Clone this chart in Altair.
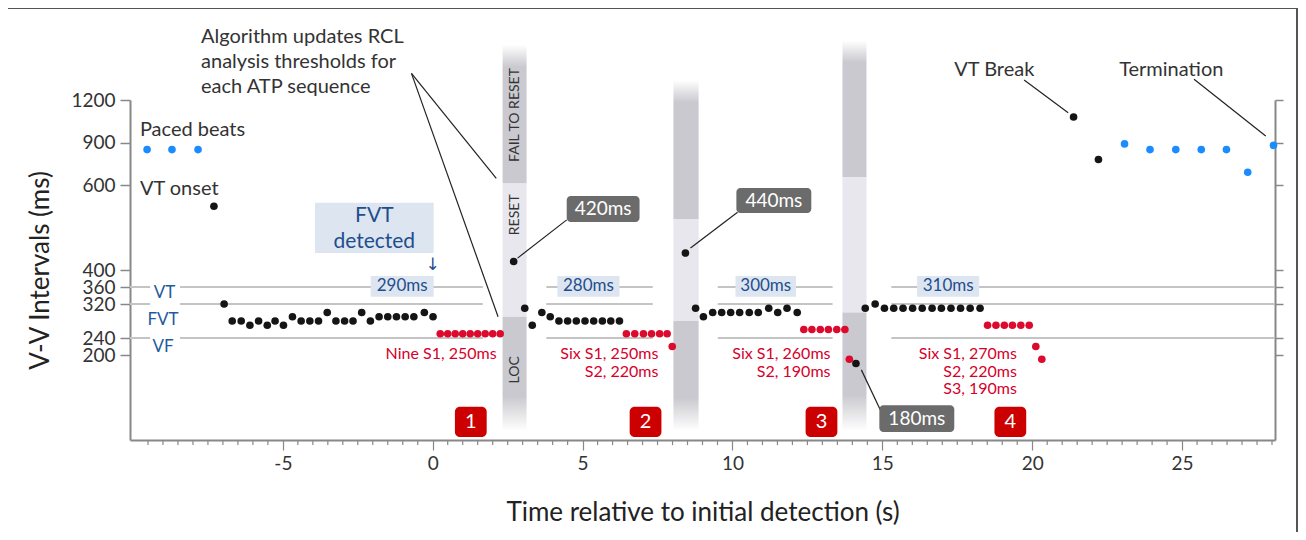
import altair as alt
import pandas as pd

FONT = "Lato"
BLACK = "#151515"
RED = "#dc0a2d"
BLUE = "#1a8cff"
NAVY = "#1f4e8c"
DARKBAND = "#c9c9cf"
LIGHTBAND = "#e7e7ed"

# ---------------- beats: time (s) and V-V interval (ms) ----------------
paced_t = [-9.53, -8.70, -7.83]
paced_ms = [850, 850, 850]

onset_t = [-7.30]
onset_ms = [550]

vt1_t = [-6.96, -6.69, -6.39, -6.10, -5.81, -5.52, -5.26, -4.98, -4.68, -4.39, -4.10, -3.81, -3.52,
         -3.23, -2.94, -2.66, -2.37, -2.08, -1.79, -1.50, -1.21, -0.92, -0.63, -0.28, 0.01]
vt1_ms = [320, 280, 280, 270, 280, 270, 280, 270, 290, 280, 280, 280, 300,
          280, 280, 280, 300, 280, 290, 290, 290, 290, 290, 300, 290]

vt2_t = [2.70, 3.07, 3.32, 3.64, 3.92, 4.21, 4.50, 4.79, 5.08, 5.37, 5.66, 5.94, 6.23]
vt2_ms = [420, 310, 270, 300, 290, 280, 280, 280, 280, 280, 280, 280, 280]

vt3_t = [8.43, 8.77, 9.03, 9.34, 9.64, 9.94, 10.24, 10.56, 10.86, 11.21, 11.51, 11.82, 12.16]
vt3_ms = [440, 310, 290, 300, 300, 300, 300, 300, 300, 310, 300, 310, 300]

vt4_t = [14.12, 14.43, 14.76, 15.07, 15.38, 15.69, 16.01, 16.33, 16.66, 16.97, 17.29, 17.61, 17.93, 18.26]
vt4_ms = [180, 310, 320, 310, 310, 310, 310, 310, 310, 310, 310, 310, 310, 310]

brk_t = [21.38, 22.21]
brk_ms = [1080, 780]

post_t = [23.08, 23.93, 24.79, 25.64, 26.48, 27.19, 28.05]
post_ms = [890, 850, 850, 850, 850, 690, 880]

atp1_t = [0.25, 0.50, 0.75, 1.00, 1.25, 1.50, 1.75, 2.00, 2.25]
atp1_ms = [250, 250, 250, 250, 250, 250, 250, 250, 250]
atp2_t = [6.46, 6.74, 7.03, 7.30, 7.57, 7.82, 7.99]
atp2_ms = [250, 250, 250, 250, 250, 250, 220]
atp3_t = [12.38, 12.65, 12.93, 13.20, 13.48, 13.75, 13.90]
atp3_ms = [260, 260, 260, 260, 260, 260, 190]
atp4_t = [18.51, 18.79, 19.07, 19.34, 19.62, 19.90, 20.12, 20.32]
atp4_ms = [270, 270, 270, 270, 270, 270, 220, 190]

# ---------------- axes ----------------
y_ticks = [200, 240, 320, 360, 400, 600, 900, 1200]
x_major = [-5, 0, 5, 10, 15, 20, 25]
x_minor = [v / 2 for v in range(-19, 57) if v % 10 != 0]
minor_len_ms = [0, -12]

# ---------------- analysis bands (s, ms) ----------------
band_x1 = [2.33, 8.03, 13.67]
band_x2 = [3.13, 8.87, 14.47]
band_top = [1590, 1340, 1620]
band_reset_hi = [610, 520, 655]
band_reset_lo = [290, 280, 300]
band_bottom = [22, 22, 22]
band_labels = ["FAIL TO RESET", "RESET", "LOC"]
band_label_ms = [1094, 530, 165]

# threshold line segments
thr_x1 = [-10.1, -8.43, 3.79, 9.51, 15.30]
thr_x2 = [-9.43, 1.67, 7.34, 13.34, 28.07]
thr_levels = [360, 320, 240]

zone_labels = ["VT", "FVT", "VF"]
zone_t = [-8.95, -9.0, -9.0]
zone_ms = [346, 282, 219]

rcl_labels = ["290ms", "280ms", "300ms", "310ms"]
rcl_x1 = [-2.07, 4.16, 10.10, 16.16]
rcl_x2 = [0.03, 6.23, 12.12, 18.23]
rcl_ms_lo = [337, 337, 337, 337]
rcl_ms_hi = [386, 386, 386, 386]

gray_labels = ["420ms", "440ms", "180ms"]
gray_x1 = [4.47, 10.13, 14.90]
gray_x2 = [6.90, 12.63, 17.40]
gray_lo = [513, 534, 19]
gray_hi = [574, 593, 82]

num_labels = ["1", "2", "3", "4"]
num_t = [1.27, 7.10, 12.97, 19.27]

red_notes = ["Nine S1, 250ms", "Six S1, 250ms", "S2, 220ms", "Six S1, 260ms", "S2, 190ms",
             "Six S1, 270ms", "S2, 220ms", "S3, 190ms"]
red_t = [2.13, 7.53, 7.53, 13.27, 13.27, 19.49, 19.49, 19.49]
red_ms = [202, 202, 161, 202, 161, 202, 161, 120]

notes = ["Algorithm updates RCL", "analysis thresholds for", "each ATP sequence",
         "Paced beats", "VT onset", "VT Break", "Termination"]
notes_t = [-7.73, -7.73, -7.73, -9.77, -9.77, 17.40, 22.90]
notes_ms = [1645, 1468, 1292, 988, 590, 1412, 1412]

call_x1 = [2.83, 8.60, 14.30, 21.20, 27.79, 2.12, 2.18]
call_y1 = [428, 452, 165, 1110, 946, 647, 290]
call_x2 = [4.47, 10.17, 14.93, 19.73, 25.40, -0.71, -0.71]
call_y2 = [518, 536, 71, 1341, 1346, 1388, 1388]

# ---------------- scales / helpers ----------------
xscale = alt.Scale(domain=[-10.1, 28.1], nice=False, zero=False)
yscale = alt.Scale(domain=[0, 600, 1200], range=[420, 165, 80], nice=False, zero=False)

X_AXIS = alt.Axis(
    title="Time relative to initial detection (s)",
    values=x_major, labelExpr="'' + datum.value",
    tickSize=10, tickColor="#888", tickWidth=1.2, domainColor="#888", domainWidth=2,
    labelFont=FONT, labelFontSize=19, labelColor="#333", labelPadding=4,
    titleFont=FONT, titleFontSize=26, titleColor="#222", titleFontWeight="normal",
    titleY=72, titleBaseline="middle", grid=False,
)
LEFT_AXIS = alt.Axis(
    orient="left", values=y_ticks, format="d", title="V-V Intervals (ms)",
    titleFont=FONT, titleFontSize=26, titleColor="#222", titleFontWeight="normal",
    titleAngle=270, titleX=-90, titleY=250, titleAlign="center", titleBaseline="middle",
    labelFont=FONT, labelFontSize=19, labelColor="#333", labelPadding=5,
    labelOverlap=False, labelBound=False, labelFlush=False,
    tickSize=10, tickColor="#888", tickWidth=1.5, domainColor="#888", domainWidth=2, grid=False,
)
RIGHT_AXIS = alt.Axis(
    orient="right", values=y_ticks, labels=False, title=None,
    tickSize=8, tickColor="#888", tickWidth=1.5, domainColor="#888", domainWidth=2, grid=False,
)


def X(f):
    return alt.X(f, type="quantitative", scale=xscale, axis=X_AXIS)


def Y(f, axis=None):
    return alt.Y(f, type="quantitative", scale=yscale, axis=axis)


layers = []

# outer frame
layers.append(
    alt.Chart(pd.DataFrame({"a": [0]})).mark_rect(filled=False, stroke="#555", strokeWidth=2).encode(
        x=alt.value(-125), x2=alt.value(1167), y=alt.value(-12), y2=alt.value(530))
)

# bands
bands = pd.DataFrame({"x1": band_x1, "x2": band_x2, "top": band_top, "hi": band_reset_hi,
                      "lo": band_reset_lo, "bot": band_bottom})
top_grad = {"gradient": "linear", "x1": 0, "x2": 0, "y1": 0, "y2": 1,
            "stops": [{"offset": 0, "color": "#ffffff"}, {"offset": 0.16, "color": DARKBAND},
                      {"offset": 1, "color": DARKBAND}]}
bot_grad = {"gradient": "linear", "x1": 0, "x2": 0, "y1": 0, "y2": 1,
            "stops": [{"offset": 0, "color": DARKBAND}, {"offset": 0.7, "color": DARKBAND},
                      {"offset": 1, "color": "#ffffff"}]}
layers.append(alt.Chart(bands).mark_rect(color=top_grad).encode(
    x=X("x1"), x2="x2", y=Y("top"), y2="hi"))
layers.append(alt.Chart(bands).mark_rect(color=LIGHTBAND).encode(
    x=X("x1"), x2="x2", y=Y("hi"), y2="lo"))
layers.append(alt.Chart(bands).mark_rect(color=bot_grad).encode(
    x=X("x1"), x2="x2", y=Y("lo"), y2="bot"))

band_lab = pd.DataFrame({"t": [(band_x1[0] + band_x2[0]) / 2] * 3, "ms": band_label_ms, "txt": band_labels})
layers.append(alt.Chart(band_lab).mark_text(angle=270, font=FONT, fontSize=14, color="#333",
                                            baseline="middle", align="center").encode(
    x=X("t"), y=Y("ms"), text="txt:N"))

# minor x ticks (every 0.5 s)
mt = pd.DataFrame({"t": x_minor, "y1": minor_len_ms[0], "y2": minor_len_ms[1]})
layers.append(alt.Chart(mt).mark_rule(color="#888", strokeWidth=1.2).encode(
    x=X("t"), y=Y("y1"), y2="y2"))

# threshold lines
thr = pd.DataFrame([{"x1": a, "x2": b, "ms": lv} for lv in thr_levels for a, b in zip(thr_x1, thr_x2)])
layers.append(alt.Chart(thr).mark_rule(color="#c4c4c4", strokeWidth=2).encode(
    x=X("x1"), x2="x2", y=Y("ms")))

# zone labels
zl = pd.DataFrame({"t": zone_t, "ms": zone_ms, "txt": zone_labels})
layers.append(alt.Chart(zl).mark_text(font=FONT, fontSize=17, color="#1f5b9c", baseline="middle").encode(
    x=X("t"), y=Y("ms"), text="txt:N"))

# RCL threshold boxes
rcl = pd.DataFrame({"x1": rcl_x1, "x2": rcl_x2, "lo": rcl_ms_lo, "hi": rcl_ms_hi, "txt": rcl_labels})
rcl["t"] = (rcl["x1"] + rcl["x2"]) / 2
rcl["m"] = (rcl["lo"] + rcl["hi"]) / 2
layers.append(alt.Chart(rcl).mark_rect(color="#dde5f1").encode(x=X("x1"), x2="x2", y=Y("lo"), y2="hi"))
layers.append(alt.Chart(rcl).mark_text(font=FONT, fontSize=17, color=NAVY, baseline="middle").encode(
    x=X("t"), y=Y("m"), text="txt:N"))

# FVT detected box
fvt = pd.DataFrame({"x1": [-3.93], "x2": [0.03], "lo": [440], "hi": [558]})
layers.append(alt.Chart(fvt).mark_rect(color="#dde5f1").encode(x=X("x1"), x2="x2", y=Y("lo"), y2="hi"))
fvt_txt = pd.DataFrame({"t": [-1.95, -1.95], "ms": [527, 465], "txt": ["FVT", "detected"]})
layers.append(alt.Chart(fvt_txt).mark_text(font=FONT, fontSize=21, color=NAVY, baseline="middle").encode(
    x=X("t"), y=Y("ms"), text="txt:N"))
arrow = pd.DataFrame({"t": [0.0], "ms": [412], "txt": ["↓"]})
layers.append(alt.Chart(arrow).mark_text(font="DejaVu Sans", fontSize=17, color=NAVY, baseline="middle").encode(
    x=X("t"), y=Y("ms"), text="txt:N"))

# callout lines
calls = pd.DataFrame({"x1": call_x1, "y1": call_y1, "x2": call_x2, "y2": call_y2})
layers.append(alt.Chart(calls).mark_rule(color="#222", strokeWidth=1.2).encode(
    x=X("x1"), x2="x2", y=Y("y1"), y2="y2"))

# beats
red = pd.DataFrame({"t": atp1_t + atp2_t + atp3_t + atp4_t, "ms": atp1_ms + atp2_ms + atp3_ms + atp4_ms})
black = pd.DataFrame({"t": onset_t + vt1_t + vt2_t + vt3_t + vt4_t + brk_t,
                      "ms": onset_ms + vt1_ms + vt2_ms + vt3_ms + vt4_ms + brk_ms})
blue = pd.DataFrame({"t": paced_t + post_t, "ms": paced_ms + post_ms})
layers.append(alt.Chart(red).mark_circle(size=58, opacity=1, color=RED).encode(x=X("t"), y=Y("ms")))
layers.append(alt.Chart(black).mark_circle(size=58, opacity=1, color=BLACK).encode(
    x=X("t"), y=Y("ms", LEFT_AXIS)))
layers.append(alt.Chart(blue).mark_circle(size=58, opacity=1, color=BLUE).encode(
    x=X("t"), y=Y("ms", RIGHT_AXIS)))

# gray value boxes
gb = pd.DataFrame({"x1": gray_x1, "x2": gray_x2, "lo": gray_lo, "hi": gray_hi, "txt": gray_labels})
gb["t"] = (gb["x1"] + gb["x2"]) / 2
gb["m"] = (gb["lo"] + gb["hi"]) / 2
layers.append(alt.Chart(gb).mark_rect(color="#6b6b6b", cornerRadius=4).encode(
    x=X("x1"), x2="x2", y=Y("lo"), y2="hi"))
layers.append(alt.Chart(gb).mark_text(font=FONT, fontSize=19, color="white", baseline="middle").encode(
    x=X("t"), y=Y("m"), text="txt:N"))

# numbered red boxes
nb = pd.DataFrame({"t": num_t, "txt": num_labels})
nb["x1"] = nb["t"] - 0.53
nb["x2"] = nb["t"] + 0.53
nb["lo"] = 7
nb["hi"] = 78
nb["m"] = 42
layers.append(alt.Chart(nb).mark_rect(color="#cc0000", cornerRadius=5).encode(
    x=X("x1"), x2="x2", y=Y("lo"), y2="hi"))
layers.append(alt.Chart(nb).mark_text(font=FONT, fontSize=20, color="white", baseline="middle").encode(
    x=X("t"), y=Y("m"), text="txt:N"))

# red ATP annotations
rn = pd.DataFrame({"t": red_t, "ms": red_ms, "txt": red_notes})
layers.append(alt.Chart(rn).mark_text(font=FONT, fontSize=16, color="#d6002a", align="right",
                                      baseline="middle").encode(x=X("t"), y=Y("ms"), text="txt:N"))

# dark annotations
nt = pd.DataFrame({"t": notes_t, "ms": notes_ms, "txt": notes})
layers.append(alt.Chart(nt).mark_text(font=FONT, fontSize=20, color="#333", align="left",
                                      baseline="middle").encode(x=X("t"), y=Y("ms"), text="txt:N"))

chart = alt.layer(*layers).resolve_axis(y="independent").properties(
    width=1145, height=420,
    autosize=alt.AutoSizeParams(type="none"),
    padding={"left": 122, "top": 12, "right": 23, "bottom": 92},
).configure_view(stroke=None)

chart.save("out.html", embed_options={"renderer": "svg", "actions": False})
